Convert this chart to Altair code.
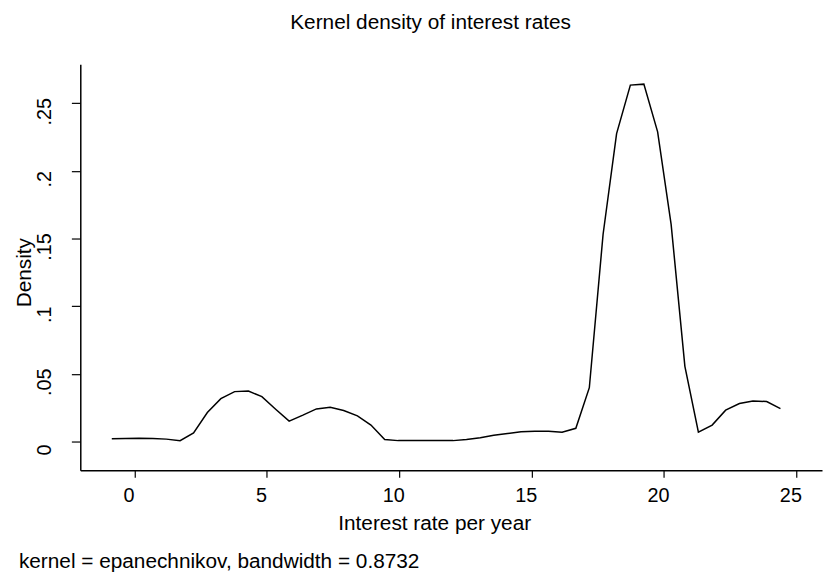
import altair as alt
import pandas as pd

# Kernel density estimate (50 evaluation points)
rate = [-0.86, -0.34, 0.17, 0.69, 1.20, 1.72, 2.23, 2.75, 3.26, 3.78,
        4.30, 4.81, 5.33, 5.84, 6.36, 6.87, 7.39, 7.90, 8.42, 8.93,
        9.45, 9.96, 10.48, 10.99, 11.51, 12.03, 12.54, 13.06, 13.57, 14.09,
        14.60, 15.12, 15.64, 16.15, 16.67, 17.18, 17.70, 18.21, 18.73, 19.24,
        19.76, 20.27, 20.79, 21.30, 21.82, 22.33, 22.85, 23.36, 23.88, 24.40]
density = [0.0020, 0.0022, 0.0025, 0.0023, 0.0018, 0.0007, 0.0064, 0.0215, 0.0317, 0.0369,
           0.0373, 0.0332, 0.0239, 0.0151, 0.0195, 0.0241, 0.0254, 0.0230, 0.0190, 0.0122,
           0.0015, 0.0007, 0.0007, 0.0007, 0.0007, 0.0007, 0.0015, 0.0028, 0.0047, 0.0060,
           0.0072, 0.0076, 0.0076, 0.0069, 0.0098, 0.0398, 0.1532, 0.2275, 0.2634, 0.2641,
           0.2288, 0.1605, 0.0556, 0.0069, 0.0122, 0.0232, 0.0281, 0.0300, 0.0296, 0.0244]

x_ticks = [0, 5, 10, 15, 20, 25]
y_ticks = [0, 0.05, 0.10, 0.15, 0.20, 0.25]

title_text = "Kernel density of interest rates"
x_title = "Interest rate per year"
y_title = "Density"
note_text = ["kernel = epanechnikov, bandwidth = 0.8732"]

FONT = "Liberation Sans"

df = pd.DataFrame({"rate": rate, "density": density})
note_df = pd.DataFrame({"note": note_text})

x_enc = alt.X(
    "rate:Q",
    scale=alt.Scale(domain=[-2.05, 25.97], nice=False, zero=False),
    axis=alt.Axis(
        values=x_ticks, format="d", grid=False,
        domainColor="black", domainWidth=1.5,
        tickColor="black", tickSize=7, tickWidth=1.2,
        labelFont=FONT, labelFontSize=20, labelColor="black",
        labelPadding=9, labelOffset=-6,
        title=x_title, titleFont=FONT, titleFontSize=21, titleFontWeight="normal",
        titleColor="black", titleAlign="left", titleBaseline="alphabetic",
        titleX=260, titleY=60,
    ),
)
y_enc = alt.Y(
    "density:Q",
    scale=alt.Scale(domain=[-0.0212, 0.2788], nice=False, zero=False),
    axis=alt.Axis(
        values=y_ticks, grid=False,
        labelExpr="replace(format(datum.value, '.2~f'), '0.', '.')",
        domainColor="black", domainWidth=1.5,
        tickColor="black", tickSize=9, tickWidth=1.2,
        labelFont=FONT, labelFontSize=20, labelColor="black",
        labelAngle=270, labelAlign="center", labelBaseline="alphabetic",
        labelPadding=21, labelOffset=8,
        title=y_title, titleFont=FONT, titleFontSize=21, titleFontWeight="normal",
        titleColor="black", titleAngle=270, titleAlign="center",
        titleBaseline="alphabetic", titleX=-50, titleY=210,
    ),
)

line = alt.Chart(df).mark_line(color="black", strokeWidth=1.5).encode(x=x_enc, y=y_enc)

note = alt.Chart(note_df).mark_text(
    font=FONT, fontSize=21, color="black", align="left", baseline="middle"
).encode(text="note:N", x=alt.value(-62), y=alt.value(503))

chart = alt.layer(line, note).properties(
    width=749,
    height=410,
    title=alt.TitleParams(
        title_text, anchor="start", frame="group", dx=212, offset=32,
        font=FONT, fontSize=21, fontWeight="normal", color="black",
    ),
    autosize=alt.AutoSizeParams(type="none"),
    padding={"left": 73, "top": 54, "right": 1, "bottom": 105},
    background="white",
).configure_view(stroke=None)

chart.save("out.html", embed_options={"renderer": "svg", "actions": False})
